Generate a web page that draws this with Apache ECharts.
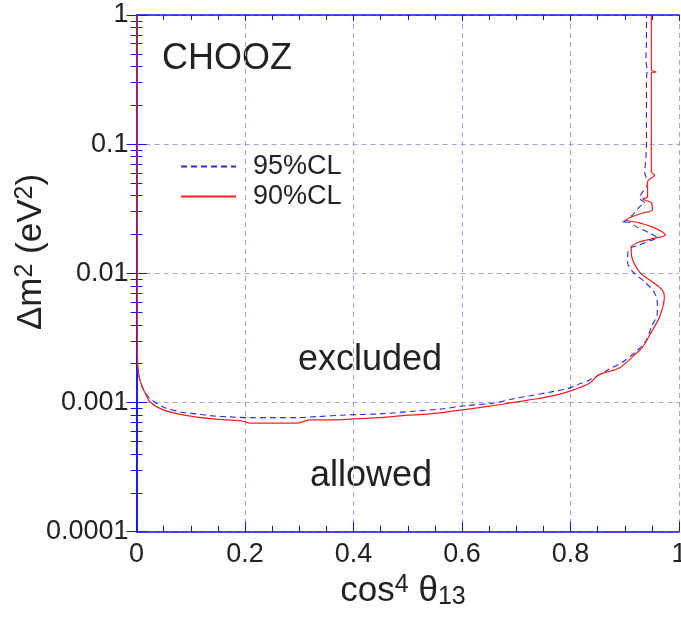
<!DOCTYPE html>
<html><head><meta charset="utf-8">
<script src="https://cdn.jsdelivr.net/npm/echarts@6/dist/echarts.min.js"></script>
<style>html,body{margin:0;padding:0;background:#fff}#c{width:681px;height:619px}</style>
</head><body><div id="c"></div>
<script>
// 95% CL contour (blue dashed): x = cos^4 theta13, y = dm^2 (eV^2)
const cl95X = [0.0005,0.0005,0.0005,0.0015,0.006,0.0155,0.028,0.049,0.080,0.111,0.141,0.172,0.209,0.295,0.332,0.387,0.448,0.516,0.562,0.608,0.656,0.700,0.724,0.767,0.793,0.811,0.835,0.872,0.896,0.924,0.940,0.949,0.960,0.960,0.955,0.937,0.915,0.905,0.907,0.927,0.951,0.960,0.946,0.922,0.905,0.894,0.903,0.918,0.927,0.937,0.927,0.933,0.940,0.942,0.937,0.939,0.940,0.940,0.940,0.941,0.939,0.940,0.940];
const cl95Y = [1,0.1,0.01,0.002,0.0015,0.00119,0.001047,0.000925,0.000846,0.000816,0.000788,0.000774,0.000764,0.000764,0.000778,0.000802,0.000816,0.000861,0.000892,0.000946,0.000988,0.00108,0.001125,0.001214,0.001274,0.001368,0.001496,0.00182,0.00206,0.00255,0.00305,0.00385,0.00493,0.0059,0.00705,0.00858,0.01025,0.01226,0.0152,0.0166,0.01815,0.0188,0.0205,0.0229,0.025,0.0246,0.0259,0.0293,0.0327,0.0351,0.0383,0.0427,0.0466,0.051,0.0598,0.0796,0.102,0.22,0.314,0.375,0.449,0.64,1];
// 90% CL contour (red solid)
const cl90X = [0.001,0.001,0.0015,0.0015,0.002,0.006,0.0155,0.025,0.049,0.085,0.141,0.190,0.200,0.209,0.295,0.319,0.362,0.399,0.430,0.461,0.491,0.540,0.601,0.675,0.724,0.767,0.802,0.835,0.852,0.890,0.918,0.933,0.946,0.964,0.973,0.969,0.951,0.927,0.912,0.912,0.927,0.958,0.975,0.955,0.927,0.903,0.912,0.933,0.951,0.949,0.933,0.942,0.942,0.955,0.949,0.949,0.949,0.958,0.949,0.949];
const cl90Y = [1,0.03,0.0165,0.003,0.002,0.0015,0.00119,0.00101,0.000877,0.000802,0.000746,0.000724,0.000708,0.000692,0.000692,0.000733,0.000733,0.000746,0.000756,0.000770,0.000792,0.000816,0.000877,0.000970,0.001047,0.001125,0.001236,0.00141,0.00164,0.00185,0.00234,0.00269,0.00333,0.0046,0.00657,0.00744,0.00858,0.01025,0.01438,0.016,0.0175,0.0188,0.0198,0.0225,0.0246,0.0259,0.0273,0.0293,0.031,0.0351,0.0377,0.039,0.051,0.0578,0.061,0.0986,0.356,0.362,0.375,1];
const seriesNames = ['95%CL','90%CL'];
const xTickLabels = ['0','0.2','0.4','0.6','0.8','1'];
const xTickValues = [0,0.2,0.4,0.6,0.8,1];
const yTickLabels = ['0.0001','0.001','0.01','0.1','1'];
const yTickValues = [0.0001,0.001,0.01,0.1,1];

const pair = (xs, ys) => xs.map((x, i) => [x, ys[i]]);
const FONT = '"Liberation Sans", Arial, sans-serif';
const AXIS_BLUE = '#1010f0';
const GRID_COL = '#a4a4d4';
const TXT = '#222222';
function xLab(v){ const i = xTickValues.findIndex(t => Math.abs(t - v) < 1e-9); return i >= 0 ? xTickLabels[i] : ''; }
function yLab(v){ const i = yTickValues.findIndex(t => Math.abs(Math.log10(t) - Math.log10(v)) < 1e-6); return i >= 0 ? yTickLabels[i] : ''; }
const titleRich = {
  a: {fontSize: 35, fontFamily: FONT, fill: TXT, color: TXT},
  s: {fontSize: 25, fontFamily: FONT, fill: TXT, color: TXT, verticalAlign: 'top', padding: [0, 0, 12, 0]},
  b: {fontSize: 25, fontFamily: FONT, fill: TXT, color: TXT, verticalAlign: 'bottom', padding: [12, 0, 0, 0]}
};

const chart = echarts.init(document.getElementById('c'), null, {renderer: 'canvas'});
chart.setOption({
  animation: false,
  backgroundColor: '#ffffff',
  textStyle: {fontFamily: FONT},
  grid: {left: 136.6, top: 15, right: 2, bottom: 87.3, containLabel: false, outerBoundsMode: 'none'},
  legend: {
    data: seriesNames, orient: 'vertical', left: 180, top: 153, padding: 0,
    itemWidth: 55, itemHeight: 14, itemGap: 3,
    itemStyle: {opacity: 0},
    textStyle: {fontSize: 27, color: TXT, fontFamily: FONT, padding: [0, 0, 0, 12]},
    selectedMode: false
  },
  xAxis: [{
    type: 'value', min: 0, max: 1, interval: 0.2, position: 'bottom',
    axisLine: {show: true, lineStyle: {color: AXIS_BLUE, width: 1.5}},
    axisTick: {show: true, inside: true, length: 10, lineStyle: {color: AXIS_BLUE, width: 1}},
    minorTick: {show: true, splitNumber: 4, length: 6, lineStyle: {color: AXIS_BLUE, width: 1}},
    axisLabel: {fontSize: 27, color: TXT, margin: 9, formatter: xLab, fontFamily: FONT},
    splitLine: {show: true, lineStyle: {color: GRID_COL, type: [5, 4], width: 1}}
  }, {
    type: 'value', min: 0, max: 1, interval: 0.2, position: 'top',
    axisLine: {show: true, lineStyle: {color: AXIS_BLUE, width: 1.5}},
    axisTick: {show: true, inside: true, length: 6, lineStyle: {color: AXIS_BLUE, width: 1}},
    minorTick: {show: true, splitNumber: 4, length: 5, lineStyle: {color: AXIS_BLUE, width: 1}},
    axisLabel: {show: false}, splitLine: {show: false}
  }],
  yAxis: [{
    type: 'log', logBase: 10, min: 0.0001, max: 1, position: 'left',
    axisLine: {show: true, lineStyle: {color: AXIS_BLUE, width: 1.5}},
    axisTick: {show: true, inside: true, length: 10, lineStyle: {color: AXIS_BLUE, width: 1}},
    minorTick: {show: true, splitNumber: 9, length: 6, lineStyle: {color: AXIS_BLUE, width: 1}},
    axisLabel: {fontSize: 27, color: TXT, margin: 8, formatter: yLab, fontFamily: FONT, padding: [0, 0, 8, 0]},
    splitLine: {show: true, lineStyle: {color: GRID_COL, type: [5, 4], width: 1}}
  }, {
    type: 'log', logBase: 10, min: 0.0001, max: 1, position: 'right',
    axisLine: {show: true, lineStyle: {color: AXIS_BLUE, width: 1.5}},
    axisTick: {show: true, inside: true, length: 10, lineStyle: {color: AXIS_BLUE, width: 1}},
    minorTick: {show: true, splitNumber: 9, length: 6, lineStyle: {color: AXIS_BLUE, width: 1}},
    axisLabel: {show: false}, splitLine: {show: false}
  }],
  series: [{
    name: seriesNames[0], type: 'line', xAxisIndex: 0, yAxisIndex: 0,
    data: pair(cl95X, cl95Y), showSymbol: false, symbol: 'none', smooth: 0.3,
    lineStyle: {color: '#2a2ae6', width: 1.1, type: [6, 4]}, itemStyle: {color: '#2a2ae6'}, z: 3
  }, {
    name: seriesNames[1], type: 'line', xAxisIndex: 0, yAxisIndex: 0,
    data: pair(cl90X, cl90Y), showSymbol: false, symbol: 'none', smooth: 0.3,
    lineStyle: {color: '#f22020', width: 1.2}, itemStyle: {color: '#f22020'}, z: 4
  }],
  graphic: [
    {type: 'text', left: 162, top: 41, style: {text: 'CHOOZ', fontSize: 36, fontFamily: FONT, fill: TXT}},
    {type: 'text', left: 298, top: 342, style: {text: 'excluded', fontSize: 36, fontFamily: FONT, fill: TXT}},
    {type: 'text', left: 310, top: 458, style: {text: 'allowed', fontSize: 36, fontFamily: FONT, fill: TXT}},
    {type: 'text', x: 403, y: 591, style: {text: '{a|cos}{s|4}{a| θ}{b|13}', rich: titleRich, align: 'center', verticalAlign: 'middle', fill: TXT}},
    {type: 'text', x: 31, y: 252, rotation: Math.PI / 2, style: {text: '{a|Δm}{s|2}{a| (eV}{s|2}{a|)}', rich: titleRich, align: 'center', verticalAlign: 'middle', fill: TXT}}
  ]
});
</script></body></html>
